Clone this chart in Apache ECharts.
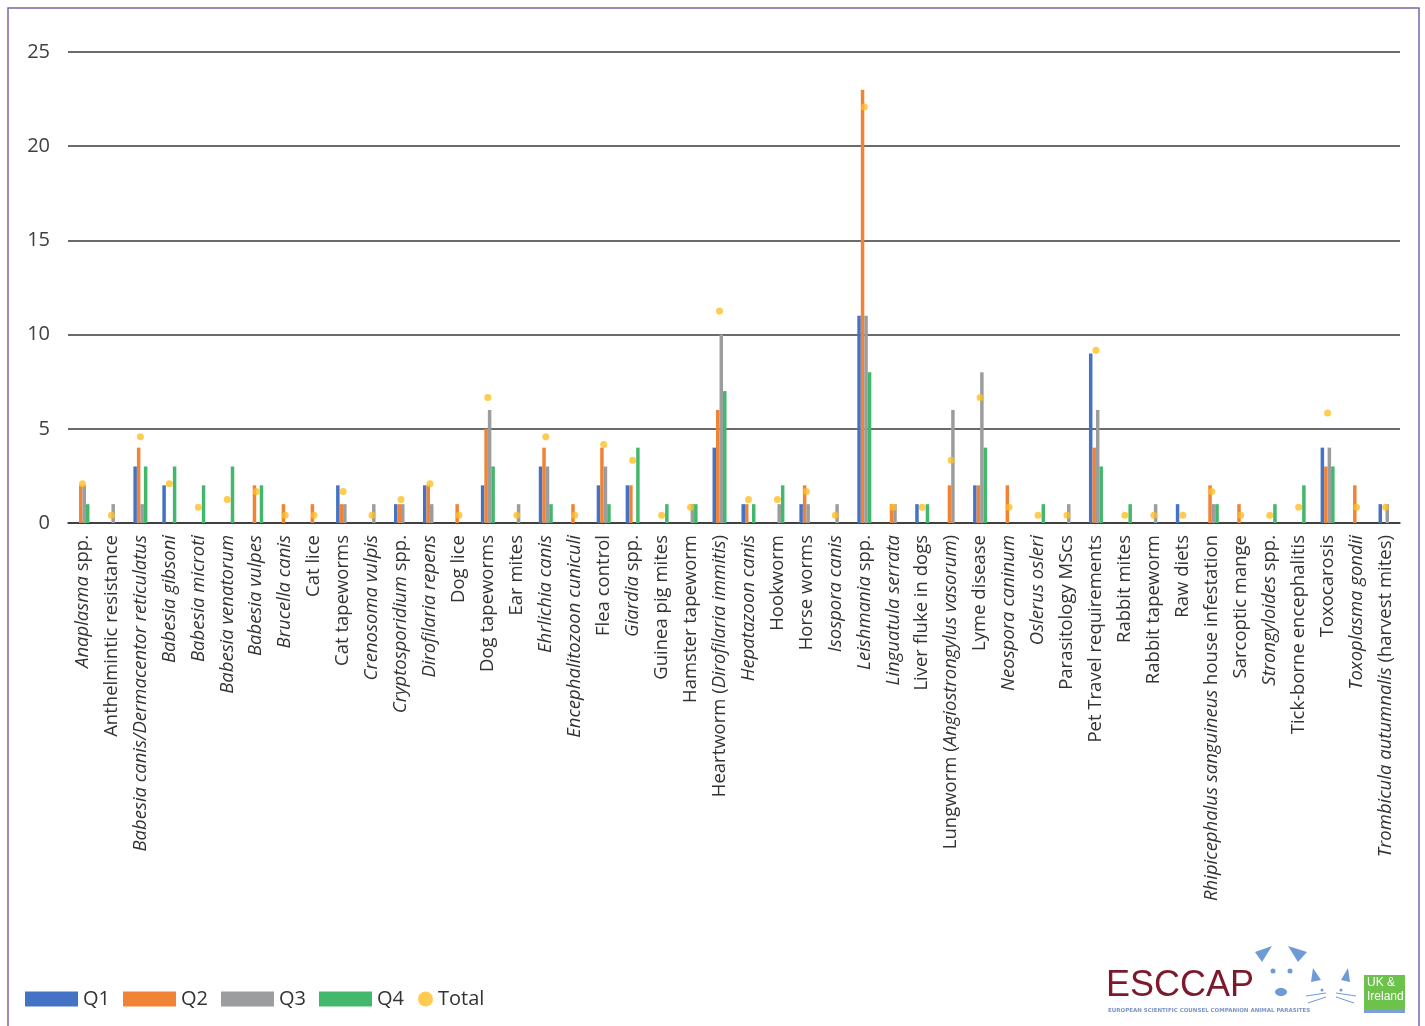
<!DOCTYPE html>
<html>
<head>
<meta charset="utf-8">
<style>
html,body{margin:0;padding:0;background:#fff;}
#chart{width:1425px;height:1026px;}
</style>
<script src="https://cdn.jsdelivr.net/npm/echarts@6/dist/echarts.min.js"></script>
</head>
<body>
<div id="chart"></div>
<script>
const categories = [
  'Anaplasma spp.', 'Anthelmintic resistance', 'Babesia canis/Dermacentor reticulatus', 'Babesia gibsoni',
  'Babesia microti', 'Babesia venatorum', 'Babesia vulpes', 'Brucella canis', 'Cat lice', 'Cat tapeworms',
  'Crenosoma vulpis', 'Cryptosporidium spp.', 'Dirofilaria repens', 'Dog lice', 'Dog tapeworms', 'Ear mites',
  'Ehrlichia canis', 'Encephalitozoon cuniculi', 'Flea control', 'Giardia spp.', 'Guinea pig mites',
  'Hamster tapeworm', 'Heartworm (Dirofilaria immitis)', 'Hepatazoon canis', 'Hookworm', 'Horse worms',
  'Isospora canis', 'Leishmania spp.', 'Linguatula serrata', 'Liver fluke in dogs',
  'Lungworm (Angiostrongylus vasorum)', 'Lyme disease', 'Neospora caninum', 'Oslerus osleri',
  'Parasitology MScs', 'Pet Travel requirements', 'Rabbit mites', 'Rabbit tapeworm', 'Raw diets',
  'Rhipicephalus sanguineus house infestation', 'Sarcoptic mange', 'Strongyloides spp.',
  'Tick-borne encephalitis', 'Toxocarosis', 'Toxoplasma gondii', 'Trombicula autumnalis (harvest mites)'
];
// italic part of each label ('' = none)
const italicParts = [
  'Anaplasma', '', 'Babesia canis/Dermacentor reticulatus', 'Babesia gibsoni',
  'Babesia microti', 'Babesia venatorum', 'Babesia vulpes', 'Brucella canis', '', '',
  'Crenosoma vulpis', 'Cryptosporidium', 'Dirofilaria repens', '', '', '',
  'Ehrlichia canis', 'Encephalitozoon cuniculi', '', 'Giardia', '',
  '', 'Dirofilaria immitis', 'Hepatazoon canis', '', '',
  'Isospora canis', 'Leishmania', 'Linguatula serrata', '',
  'Angiostrongylus vasorum', '', 'Neospora caninum', 'Oslerus osleri',
  '', '', '', '', '',
  'Rhipicephalus sanguineus', '', 'Strongyloides',
  '', '', 'Toxoplasma gondii', 'Trombicula autumnalis'
];
const q1 = [0,0,3,2,0,0,0,0,0,2, 0,1,2,0,2,0,3,0,2,2, 0,0,4,1,0,1,0,11,0,1, 0,2,0,0,0,9,0,0,1,0, 0,0,0,4,0,1];
const q2 = [2,0,4,0,0,0,2,1,1,1, 0,1,2,1,5,0,4,1,4,2, 0,0,6,1,0,2,0,23,1,0, 2,2,2,0,0,4,0,0,0,2, 1,0,0,3,2,0];
const q3 = [2,1,1,0,0,0,0,0,0,1, 1,1,1,0,6,1,3,0,3,0, 0,1,10,0,1,1,1,11,1,0, 6,8,0,0,1,6,0,1,0,1, 0,0,0,4,0,1];
const q4 = [1,0,3,3,2,3,2,0,0,0, 0,0,0,0,3,0,1,0,1,4, 1,1,7,1,2,0,0,8,0,1, 0,4,0,1,0,3,1,0,0,1, 0,1,2,3,0,0];
const total = [5,1,11,5,2,3,4,1,1,4, 1,3,5,1,16,1,11,1,10,8, 1,2,27,3,3,4,1,53,2,2, 8,16,2,1,1,22,1,1,1,4, 1,1,2,14,2,2];
const yMax = 25, yInterval = 5;      // left axis
const totalAxisMax = 60;             // hidden secondary axis for Total

const colors = {Q1:'#4472C4', Q2:'#F08336', Q3:'#9B9D9F', Q4:'#43B76B', Total:'#FFBE25'};
const FONT = '"Open Sans", "Noto Sans", sans-serif';
const LABEL_SIZE = 18.5;

function fmtLabel(value, idx) {
  const it = italicParts[idx];
  if (!it) return value;
  const p = value.indexOf(it);
  if (p < 0) return value;
  return value.slice(0, p) + '{i|' + it + '}' + value.slice(p + it.length);
}

const chart = echarts.init(document.getElementById('chart'), null, {renderer: 'canvas'});

function barSeries(name, data) {
  return {
    name: name, type: 'bar', data: data, barWidth: 3.5, barGap: '0%',
    itemStyle: {color: colors[name]}, yAxisIndex: 0, z: 2
  };
}

const option = {
  backgroundColor: '#fff',
  animation: false,
  grid: {left: 68, right: 25, top: 52, bottom: 503, containLabel: false},
  xAxis: {
    type: 'category', data: categories,
    axisLine: {show: true, lineStyle: {color: '#333', width: 1.5}},
    axisTick: {show: false},
    axisLabel: {
      interval: 0, rotate: 90, margin: 12, fontFamily: FONT, fontSize: LABEL_SIZE, color: '#333',
      formatter: fmtLabel,
      rich: {i: {fontStyle: 'italic', fontFamily: FONT, fontSize: LABEL_SIZE, color: '#333'}}
    }
  },
  yAxis: [{
    type: 'value', min: 0, max: yMax, interval: yInterval,
    axisLine: {show: false}, axisTick: {show: false},
    axisLabel: {fontFamily: FONT, fontSize: 20, color: '#404040', margin: 18},
    splitLine: {show: true, lineStyle: {color: '#3a3a3a', width: 1.5}}
  }, {
    type: 'value', min: 0, max: totalAxisMax, show: false, splitLine: {show: false}
  }],
  legend: [{
    data: [{name:'Q1', icon:'rect'}, {name:'Q2', icon:'rect'}, {name:'Q3', icon:'rect'}, {name:'Q4', icon:'rect'}],
    left: 20, top: 984, itemWidth: 53, itemHeight: 15, itemGap: 13,
    textStyle: {fontFamily: FONT, fontSize: 20, color: '#333'},
    selectedMode: false
  }, {
    data: [{name:'Total', icon:'circle'}],
    left: 413, top: 984, itemWidth: 15, itemHeight: 15,
    textStyle: {fontFamily: FONT, fontSize: 20, color: '#333'},
    selectedMode: false
  }],
  series: [
    barSeries('Q1', q1), barSeries('Q2', q2), barSeries('Q3', q3), barSeries('Q4', q4),
    {name: 'Total', type: 'scatter', data: total, yAxisIndex: 1, symbol: 'circle', symbolSize: 7,
     itemStyle: {color: colors.Total}, z: 5}
  ],
  graphic: [
    {type: 'rect', shape: {x: 8, y: 8, width: 1411, height: 1040}, style: {fill: 'none', stroke: '#7E64A6', lineWidth: 1.5}, silent: true},
    // logo (decorative)
    {type: 'text', left: 1106, top: 968, style: {text: 'ESCCAP', font: '36px "Liberation Sans", sans-serif', fill: '#7A1A2C'}},
    {type: 'text', left: 1108, top: 1008, style: {text: 'EUROPEAN SCIENTIFIC COUNSEL COMPANION ANIMAL PARASITES', font: 'bold 5.5px "DejaVu Sans", sans-serif', fill: '#7B95C4'}},
    {type: 'polygon', shape: {points: [[1255,952],[1272,946],[1262,962]]}, style: {fill: '#6E9BD6'}},
    {type: 'polygon', shape: {points: [[1288,946],[1307,952],[1298,962]]}, style: {fill: '#6E9BD6'}},
    {type: 'circle', shape: {cx: 1273, cy: 971, r: 2.5}, style: {fill: '#6E9BD6'}},
    {type: 'circle', shape: {cx: 1290, cy: 971, r: 2.5}, style: {fill: '#6E9BD6'}},
    {type: 'ellipse', shape: {cx: 1281, cy: 992, rx: 6, ry: 4}, style: {fill: '#6E9BD6'}},
    {type: 'polygon', shape: {points: [[1313,968],[1321,980],[1311,982]]}, style: {fill: '#6E9BD6'}},
    {type: 'polygon', shape: {points: [[1348,968],[1350,982],[1341,980]]}, style: {fill: '#6E9BD6'}},
    {type: 'circle', shape: {cx: 1322, cy: 990, r: 1.5}, style: {fill: '#6E9BD6'}},
    {type: 'circle', shape: {cx: 1341, cy: 990, r: 1.5}, style: {fill: '#6E9BD6'}},
    {type: 'polyline', shape: {points: [[1306,996],[1326,993]]}, style: {stroke: '#6E9BD6', lineWidth: 1}},
    {type: 'polyline', shape: {points: [[1308,1003],[1326,997]]}, style: {stroke: '#6E9BD6', lineWidth: 1}},
    {type: 'polyline', shape: {points: [[1336,993],[1356,996]]}, style: {stroke: '#6E9BD6', lineWidth: 1}},
    {type: 'polyline', shape: {points: [[1336,997],[1354,1003]]}, style: {stroke: '#6E9BD6', lineWidth: 1}},
    {type: 'rect', shape: {x: 1364, y: 975, width: 41, height: 36}, style: {fill: '#6CC24A'}},
    {type: 'rect', shape: {x: 1364, y: 1009, width: 41, height: 4}, style: {fill: '#7B9FD6'}},
    {type: 'text', left: 1367, top: 976, style: {text: 'UK &\nIreland', font: '12px "Liberation Sans", sans-serif', fill: '#fff', lineHeight: 14}}
  ]
};
chart.setOption(option);
</script>
</body>
</html>
